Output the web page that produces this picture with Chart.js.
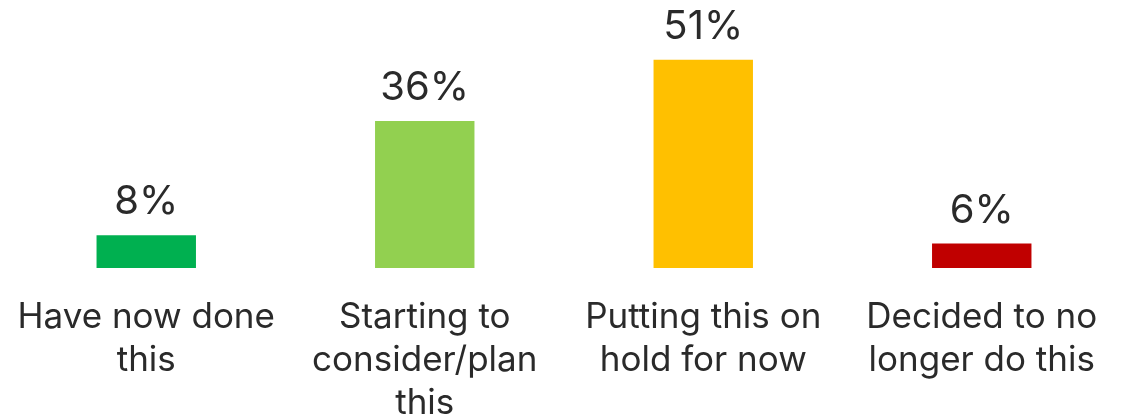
<!DOCTYPE html>
<html>
<head>
<meta charset="utf-8">
<script src="https://cdn.jsdelivr.net/npm/chart.js@4"></script>
<style>
  html, body { margin: 0; padding: 0; background: #ffffff; }
  #wrap { width: 1121px; height: 420px; }
</style>
</head>
<body>
<div id="wrap"><canvas id="c" width="1121" height="420"></canvas></div>
<script>
// Categories (one array of lines per label) and their shares in percent
const categories = [
  ["Have now done", "this"],
  ["Starting to", "consider/plan", "this"],
  ["Putting this on", "hold for now"],
  ["Decided to no", "longer do this"]
];
const values = [8, 36, 51, 6];
const barColors = ["#00B050", "#92D050", "#FFC000", "#C00000"];

const textColor = "#2A2A2A";
const fontFamily = "Inter, 'Noto Sans', sans-serif";

// Writes the percentage above each bar
const valueLabels = {
  id: "valueLabels",
  afterDatasetsDraw(chart) {
    const ctx = chart.ctx;
    const meta = chart.getDatasetMeta(0);
    ctx.save();
    ctx.fillStyle = textColor;
    ctx.font = "40px " + fontFamily;
    ctx.textAlign = "center";
    ctx.textBaseline = "alphabetic";
    meta.data.forEach((bar, i) => {
      ctx.fillText(values[i] + "%", bar.x, bar.y - 21);
    });
    ctx.restore();
  }
};

new Chart(document.getElementById("c"), {
  type: "bar",
  data: {
    labels: categories,
    datasets: [{
      data: values,
      backgroundColor: barColors,
      borderWidth: 0,
      categoryPercentage: 1,
      barPercentage: 0.357
    }]
  },
  options: {
    responsive: false,
    animation: false,
    layout: { padding: { top: 23, left: 7, right: -1, bottom: 0 } },
    plugins: {
      legend: { display: false },
      tooltip: { enabled: false }
    },
    scales: {
      x: {
        grid: { display: false, drawTicks: false },
        border: { display: false },
        ticks: {
          color: textColor,
          padding: 28,
          maxRotation: 0,
          autoSkip: false,
          font: { family: fontFamily, size: 35, lineHeight: 1.23 }
        },
        afterFit(scale) {
          // fixed axis band; the wide edge labels may spill over the sides
          scale.height = 152;
          scale.paddingLeft = 0;
          scale.paddingRight = 0;
        }
      },
      y: {
        display: false,
        min: 0,
        max: 60
      }
    }
  },
  plugins: [valueLabels]
});
</script>
</body>
</html>
